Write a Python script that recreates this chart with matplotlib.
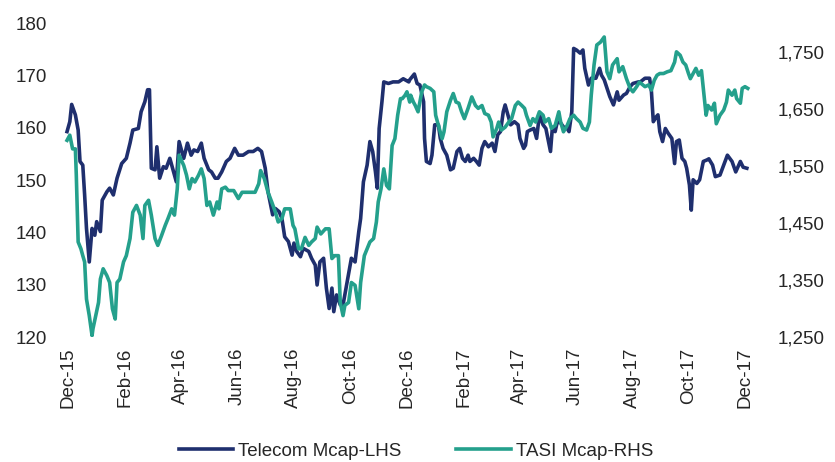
import matplotlib
matplotlib.use("Agg")
import matplotlib.pyplot as plt
from matplotlib.ticker import FuncFormatter
import pandas as pd

plt.rcParams['font.family'] = ['Liberation Sans', 'DejaVu Sans']

START = "2015-12-01"

# day offsets from START and market cap readings
telecom_day = [
    -1, 2, 4, 8, 11, 13, 16, 18, 20, 23, 26, 29, 31, 35, 37, 42, 45, 49, 53, 58,
    63, 67, 70, 76, 79, 83, 86, 88, 90, 94, 96, 99, 103, 106, 110, 114, 117, 120,
    125, 129, 133, 136, 140, 144, 147, 152, 155, 159, 162, 166, 171, 175, 180, 184,
    189, 195, 200, 205, 209, 213, 216, 221, 224, 228, 231, 234, 238, 242, 244,
    247, 251, 254, 260, 263, 267, 269, 272, 276, 279, 282, 285, 287, 290, 294, 297,
    304, 306, 310, 314, 316, 319, 323, 326, 329, 332, 334, 336, 339, 341, 346, 351,
    357, 362, 368,
    369, 374, 377, 380, 384, 385, 387, 391, 393, 396, 400, 402, 405, 409, 413, 416,
    420, 423, 426, 429, 432, 434, 438, 441, 444, 447, 450, 454, 458, 461, 464, 467,
    470, 472, 475, 478, 482, 486, 488, 492,
    494, 496, 499, 503, 506, 509, 513, 516, 521, 523, 526, 528, 531, 535, 539, 541,
    544, 546, 549, 553, 556, 558, 562, 565, 570, 574, 576, 579, 582, 585, 589, 593,
    595, 600, 603, 607, 610, 616,
    618, 623, 628, 630, 632, 635, 637, 639, 642, 645, 648, 652, 655, 657, 660, 663,
    666, 668, 671, 673, 675, 679, 682, 686, 690, 692, 696, 699, 704, 708, 712, 717,
    721, 726, 729, 733,
]
telecom_mcap = [
    159.3, 161.2, 164.5, 162.5, 159.6, 153.6, 152.9, 147.2, 140.8, 134.4, 140.8, 139.5,
    142.1, 140.2, 146.2, 147.8, 148.5, 147.2, 150.4, 153.2, 154.2, 157.1, 159.6, 159.9,
    163.1, 165.0, 167.3, 167.3, 152.3, 152.0, 156.4, 150.4, 152.6, 152.3, 154.2, 151.6,
    149.7, 157.4,
    154.2, 157.1, 154.8, 155.8, 155.5, 157.1, 154.2, 152.0, 151.6, 150.4, 150.4, 151.6,
    153.6, 154.2, 156.1, 154.8, 154.8, 155.5, 155.5, 156.1, 155.5, 152.3, 147.8, 143.4,
    144.6, 144.0, 142.7, 139.2, 138.3, 135.7, 138.0,
    136.4, 135.4, 137.0, 136.4, 135.1, 133.8, 130.0, 134.4, 135.1, 129.4, 125.5, 129.4,
    124.9, 128.1, 126.2, 126.2, 133.2, 135.1, 134.4, 140.2, 142.7, 149.7, 152.9, 157.4,
    155.5, 151.6, 148.5, 159.9, 165.0, 168.8, 168.5, 168.8, 168.8, 169.4, 168.8,
    169.2, 170.3, 168.5, 168.2, 165.0, 158.0, 153.6, 153.2, 154.8, 160.6, 160.6, 158.0,
    156.1, 154.8, 152.0, 152.3, 155.5, 156.1, 154.2, 153.6, 154.8, 153.6, 154.2, 153.6,
    152.9, 156.1, 157.4, 156.4, 157.1, 155.5, 158.7, 159.3, 163.1, 164.4, 162.5, 160.6,
    161.2, 160.6, 158.0, 156.1,
    156.7, 159.3, 159.6, 159.9, 158.0, 162.5, 160.6, 159.9, 155.5, 160.0, 159.3, 160.9,
    161.2, 160.2, 159.9, 159.3, 163.1, 175.2, 174.9, 174.3, 174.9, 171.4, 168.2, 169.5,
    169.5, 171.4, 170.1, 169.2, 167.6, 166.0, 164.4, 166.9, 165.3, 166.3, 166.6, 167.9,
    168.5, 168.8,
    168.8, 169.5, 169.5, 166.9, 161.2, 162.1, 162.5, 159.3, 157.4, 159.9, 159.0, 158.0,
    153.2, 157.4, 157.7, 154.2, 153.6, 152.3, 149.1, 144.3, 150.1, 149.4, 150.1, 153.6,
    153.9, 154.1, 152.9, 150.7, 151.0, 152.9, 154.8, 153.6, 151.6, 153.6, 152.5, 152.3,
]

tasi_day = [
    -1, 2, 5, 8, 9, 11, 14, 16, 18, 20, 23, 26, 27, 30, 33, 35, 38, 42, 45, 48,
    51, 53, 56, 60, 63, 67, 70, 74, 78, 81, 83, 87, 90, 94, 97, 101, 105, 108, 112,
    115, 118, 120,
    125, 128, 131, 134, 137, 141, 144, 147, 150, 153, 157, 161, 163, 166, 170, 173,
    179, 184, 188, 195, 202, 206, 208, 212, 216, 220, 224, 227, 231, 234, 240, 243,
    245, 249, 252, 256, 260, 263, 267, 269, 273, 278, 282, 285, 288, 292, 294, 297,
    299, 303, 306, 310, 314, 316, 320, 323, 326, 330, 333, 335, 338, 341, 344, 347,
    350, 353, 356, 359, 361, 364, 366, 369,
    370, 373, 375, 378, 382, 385, 387, 391, 395, 397, 400, 404, 406, 409, 413, 416,
    419, 422, 425, 428, 432, 436, 440, 443, 447, 450, 454, 457, 459, 463, 465, 468,
    472, 476, 479, 483, 486, 490, 493,
    495, 499, 502, 505, 509, 513, 515, 519, 522, 526, 530, 532, 535, 539, 542, 546,
    549, 553, 556, 560, 563, 565, 568, 571, 575, 579, 582, 585, 588, 593, 595, 599,
    603, 607, 610, 614, 617,
    623, 627, 630, 633, 636, 639, 643, 647, 651, 655, 657, 661, 664, 667, 670, 672,
    675, 678, 681, 684, 686, 689, 691, 695, 698, 700, 704, 708, 711, 713, 717, 720,
    722, 726, 728, 731, 734,
]
tasi_mcap = [
    1595, 1604, 1580, 1580, 1534, 1417, 1405, 1393, 1382, 1317, 1288, 1253, 1265, 1288,
    1311, 1352, 1370, 1358, 1346, 1300, 1282, 1346, 1352, 1382, 1393, 1423, 1469, 1481,
    1464, 1423, 1481, 1490, 1464, 1423, 1411, 1428, 1446, 1458, 1475, 1464, 1510, 1569,
    1551, 1534, 1510, 1528, 1522, 1534, 1545, 1528, 1481, 1487, 1464, 1487, 1475, 1510,
    1513, 1507, 1507, 1493, 1504, 1504, 1504, 1519, 1542, 1528, 1504, 1487, 1469, 1452,
    1458, 1475, 1475, 1446,
    1440, 1405, 1405, 1425, 1411, 1417, 1423, 1443, 1431, 1440, 1440, 1388, 1393, 1393,
    1311, 1288, 1306, 1311, 1346, 1341, 1300, 1346, 1393, 1405, 1417, 1423, 1452, 1487,
    1510, 1545, 1516, 1510, 1586, 1598, 1639, 1668, 1668, 1674, 1680, 1662,
    1674, 1662, 1656, 1645, 1680, 1692, 1689, 1686, 1680, 1639, 1621, 1598, 1610, 1645,
    1665, 1677, 1662, 1660, 1645, 1633, 1651, 1671, 1656, 1651, 1656, 1642, 1639, 1627,
    1601, 1616, 1627, 1613, 1618, 1627, 1633, 1656, 1662, 1656, 1651,
    1639, 1621, 1633, 1627, 1645, 1639, 1627, 1633, 1616, 1621, 1645, 1627, 1610, 1621,
    1633, 1639, 1633, 1627, 1616, 1613, 1627, 1674, 1727, 1762, 1767, 1776, 1715, 1703,
    1727, 1738, 1715, 1724, 1703, 1686, 1680, 1689, 1697,
    1689, 1692, 1683, 1700, 1709, 1712, 1712, 1715, 1717, 1732, 1750, 1744, 1732, 1727,
    1712, 1703, 1712, 1721, 1709, 1717, 1686, 1639, 1656, 1648, 1660, 1624, 1639, 1648,
    1662, 1683, 1674, 1683, 1668, 1660, 1686, 1689, 1686,
]

xtick_labels = ["Dec-15", "Feb-16", "Apr-16", "Jun-16", "Aug-16", "Oct-16", "Dec-16",
                "Feb-17", "Apr-17", "Jun-17", "Aug-17", "Oct-17", "Dec-17"]
left_ticks = [120, 130, 140, 150, 160, 170, 180]
right_ticks = [1250, 1350, 1450, 1550, 1650, 1750]

NAVY = "#1f2f6e"
TEAL = "#24a08c"
TEXT = "#262626"
FS = 13.5
LW = 2.6

start = pd.Timestamp(START)
t_dates = start + pd.to_timedelta(telecom_day, unit="D")
a_dates = start + pd.to_timedelta(tasi_day, unit="D")
tick_dates = pd.date_range(START, periods=len(xtick_labels), freq="2MS")

fig = plt.figure(figsize=(8.35, 4.62), dpi=100)
ax = fig.add_axes([60 / 835, 0.2699, 700 / 835, 0.6797])
ax2 = ax.twinx()

l1, = ax.plot(t_dates, telecom_mcap, color=NAVY, lw=LW, label="Telecom Mcap-LHS")
l2, = ax2.plot(a_dates, tasi_mcap, color=TEAL, lw=LW, label="TASI Mcap-RHS")

ax.set_xlim(start - pd.Timedelta(days=8.6), start + pd.Timedelta(days=747.2))
ax.set_ylim(120, 180)
ax2.set_ylim(1250, 1800)

ax.set_xticks(tick_dates)
ax.set_xticklabels(xtick_labels, rotation=90, fontsize=FS, color=TEXT)
ax.set_yticks(left_ticks)
ax.set_yticklabels([str(v) for v in left_ticks], fontsize=FS, color=TEXT)
ax2.set_yticks(right_ticks)
ax2.yaxis.set_major_formatter(FuncFormatter(lambda v, _: f"{v:,.0f}"))

ax.tick_params(axis="x", length=0, pad=7.5)
ax.tick_params(axis="y", length=0, pad=9.4)
ax2.tick_params(axis="y", length=0, pad=13, labelsize=FS, labelcolor=TEXT)

for a in (ax, ax2):
    for s in a.spines.values():
        s.set_visible(False)

fig.legend(handles=[l1, l2], loc="center", bbox_to_anchor=(416 / 835, 1 - 451 / 462),
           ncol=2, frameon=False, fontsize=FS, handlelength=2.9, handletextpad=0.27,
           columnspacing=2.9, labelcolor=TEXT)

fig.savefig("out.png", dpi=100)
